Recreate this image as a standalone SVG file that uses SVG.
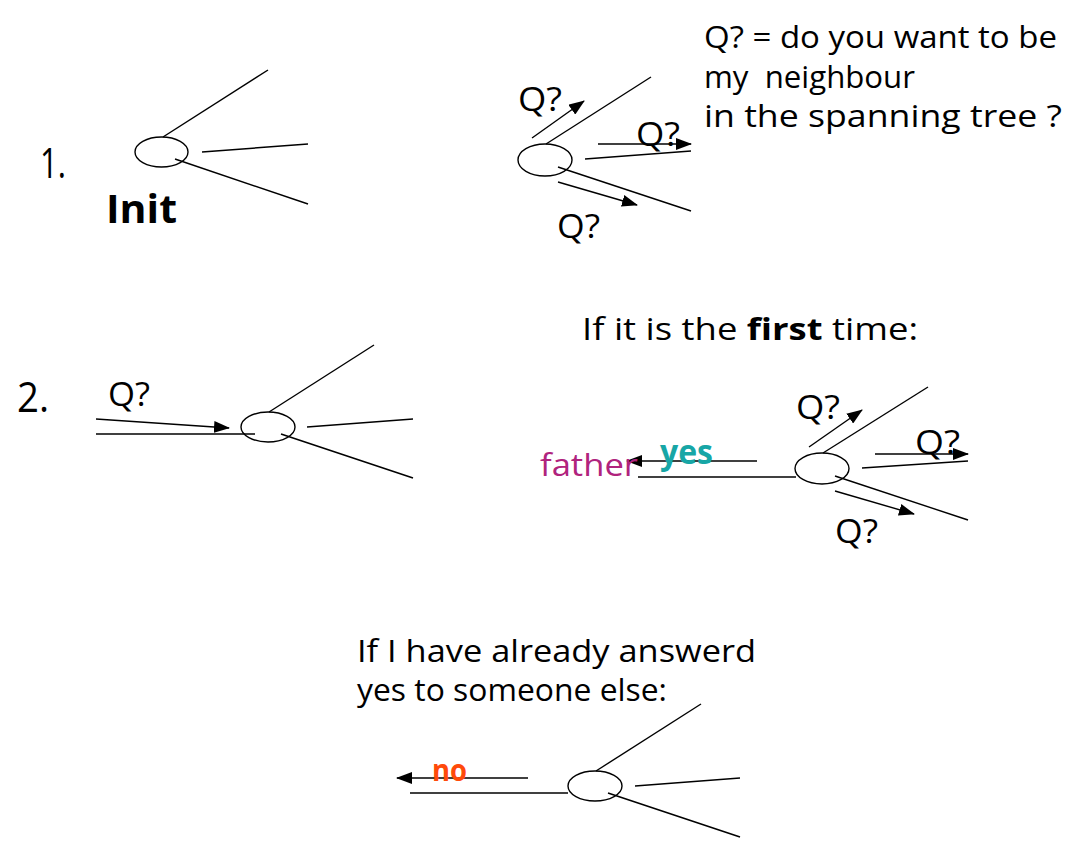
<svg xmlns="http://www.w3.org/2000/svg" width="1072" height="846" viewBox="0 0 1072 846">
<defs>
<marker id="ah" markerUnits="userSpaceOnUse" markerWidth="16" markerHeight="12" refX="15" refY="6" orient="auto">
<path d="M0,0 L16,6 L0,12 Z" fill="#000"/>
</marker>
<style>
.t{font-family:"Open Sans","DejaVu Sans",sans-serif;font-size:31px;fill:#000}
.q{font-size:33px}
.n{font-size:42px}
.b{font-weight:bold}
.ln{stroke:#000;stroke-width:1.4;fill:none}
.ar{stroke:#000;stroke-width:1.4;fill:none;marker-end:url(#ah)}
.nd{fill:none;stroke:#000;stroke-width:1.4}
</style>
</defs>
<rect width="1072" height="846" fill="#fff"/>

<g id="labels">
<text class="t n" x="40" y="178" textLength="26" lengthAdjust="spacingAndGlyphs">1.</text>
<text class="t b" x="106" y="223" style="font-size:40px" textLength="71" lengthAdjust="spacingAndGlyphs">Init</text>
<text class="t" x="704" y="48" textLength="353" lengthAdjust="spacingAndGlyphs">Q? = do you want to be</text>
<text class="t" x="704" y="88" textLength="211" lengthAdjust="spacingAndGlyphs" xml:space="preserve">my  neighbour</text>
<text class="t" x="704" y="127" textLength="358" lengthAdjust="spacingAndGlyphs">in the spanning tree ?</text>
<text class="t n" x="17" y="412" textLength="32" lengthAdjust="spacingAndGlyphs">2.</text>
<text class="t" x="582" y="340" textLength="336" lengthAdjust="spacingAndGlyphs">If it is the <tspan class="b">first</tspan> time:</text>
<text class="t" x="357" y="662" textLength="399" lengthAdjust="spacingAndGlyphs">If I have already answerd</text>
<text class="t" x="357" y="701" textLength="310" lengthAdjust="spacingAndGlyphs">yes to someone else:</text>
</g>

<g id="connectors">
<line class="ln" x1="163" y1="137" x2="268" y2="70"/>
<line class="ln" x1="202" y1="152" x2="308" y2="144"/>
<line class="ln" x1="175" y1="159" x2="308" y2="204"/>
<line class="ln" x1="546" y1="144" x2="651" y2="77"/>
<line class="ln" x1="585" y1="159" x2="691" y2="151"/>
<line class="ln" x1="558" y1="167" x2="691" y2="211"/>
<line class="ar" x1="532" y1="138" x2="584" y2="101"/>
<line class="ar" x1="598" y1="144" x2="691" y2="144"/>
<line class="ar" x1="558" y1="182" x2="637" y2="205"/>
<line class="ln" x1="269" y1="412" x2="374" y2="345"/>
<line class="ln" x1="307" y1="427" x2="413" y2="419"/>
<line class="ln" x1="281" y1="434" x2="413" y2="478"/>
<line class="ln" x1="96" y1="434" x2="255" y2="434"/>
<line class="ar" x1="96" y1="419" x2="229" y2="428"/>
<line class="ln" x1="823" y1="453" x2="928" y2="387"/>
<line class="ln" x1="862" y1="468" x2="968" y2="461"/>
<line class="ln" x1="835" y1="476" x2="968" y2="520"/>
<line class="ln" x1="638" y1="477" x2="796" y2="477"/>
<line class="ar" x1="757" y1="461" x2="627" y2="461"/>
<line class="ar" x1="809" y1="447" x2="862" y2="410"/>
<line class="ar" x1="875" y1="454" x2="968" y2="454"/>
<line class="ar" x1="835" y1="491" x2="914" y2="514"/>
<line class="ln" x1="596" y1="771" x2="701" y2="704"/>
<line class="ln" x1="635" y1="786" x2="740" y2="778"/>
<line class="ln" x1="608" y1="793" x2="740" y2="837"/>
<line class="ln" x1="410" y1="793" x2="568" y2="793"/>
<line class="ar" x1="528" y1="778" x2="397" y2="778"/>
</g>

<g id="node1"><ellipse class="nd" cx="161.5" cy="152" rx="26.5" ry="15"/></g>
<g id="node2"><ellipse class="nd" cx="545" cy="160" rx="27" ry="16"/></g>
<g id="node3"><ellipse class="nd" cx="268" cy="427" rx="27" ry="15"/></g>
<g id="node4"><ellipse class="nd" cx="822" cy="468.5" rx="27" ry="15.5"/></g>
<g id="node5"><ellipse class="nd" cx="595" cy="786" rx="27" ry="15"/></g>

<g id="edge-labels">
<text class="t q" x="518" y="111" textLength="44" lengthAdjust="spacingAndGlyphs">Q?</text>
<text class="t q" x="636" y="146" textLength="44" lengthAdjust="spacingAndGlyphs">Q?</text>
<text class="t q" x="557" y="238" textLength="43" lengthAdjust="spacingAndGlyphs">Q?</text>
<text class="t q" x="108" y="406" textLength="42" lengthAdjust="spacingAndGlyphs">Q?</text>
<text class="t q" x="796" y="419" textLength="44" lengthAdjust="spacingAndGlyphs">Q?</text>
<text class="t q" x="915" y="454" textLength="45" lengthAdjust="spacingAndGlyphs">Q?</text>
<text class="t q" x="835" y="543" textLength="43" lengthAdjust="spacingAndGlyphs">Q?</text>
<text class="t" x="540" y="476" style="fill:#b0237d" textLength="98" lengthAdjust="spacingAndGlyphs">father</text>
<text class="t b" x="660" y="464" style="fill:#17a6a6;font-size:34px" textLength="53" lengthAdjust="spacingAndGlyphs">yes</text>
<text class="t b" x="432" y="781" style="fill:#ff4a0a;font-size:31px" textLength="35" lengthAdjust="spacingAndGlyphs">no</text>
</g>
</svg>
